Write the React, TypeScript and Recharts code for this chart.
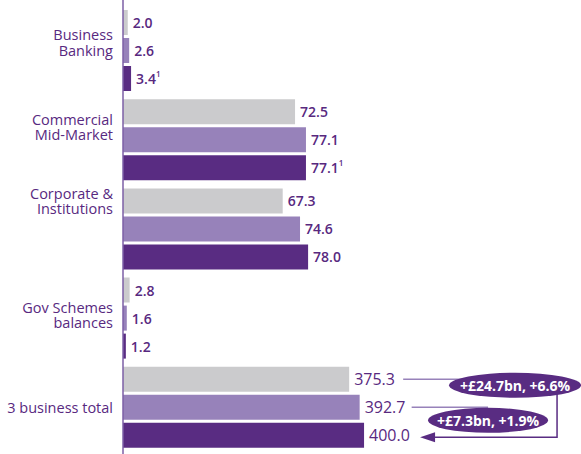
import { BarChart, Bar, XAxis, YAxis, LabelList } from 'recharts';

const categories = [
  'Business\nBanking',
  'Commercial\nMid-Market',
  'Corporate &\nInstitutions',
  'Gov Schemes\nbalances',
  '3 business total',
];
const prior2 = [2.0, 72.5, 67.3, 2.8, 375.3];
const prior1 = [2.6, 77.1, 74.6, 1.6, 392.7];
const current = [3.4, 77.1, 78.0, 1.2, 400.0];
const currentNotes = ['1', '1', '', '', ''];
const TOTAL = 4;

const GREY = '#cbcbcd';
const LIGHT = '#9782ba';
const DARK = '#592c82';
const TEXT = '#58297f';
const FONT = '"Open Sans", sans-serif';

const BAR = 25;
const GAP = 3;
// vertical nudges for the category text, as laid out in the original
const NUDGE = [-8, -13, -28, -3, 0];

const data = categories.map((name, i) =>
  i === TOTAL
    ? { name, a: null, b: null, c: null, ta: prior2[i], tb: prior1[i], tc: current[i] }
    : { name, a: prior2[i], b: prior1[i], c: current[i], ta: null, tb: null, tc: null }
);

function CategoryTick(props: any) {
  const { x, y, payload, index } = props;
  const lines = String(payload.value).split('\n');
  const lh = 15.5;
  const top = y + (NUDGE[index] ?? 0) - ((lines.length - 1) * lh) / 2;
  return (
    <g>
      {lines.map((l, i) => (
        <text key={i} x={x} y={top + i * lh} textAnchor="end" dominantBaseline="central" fill={TEXT}
          fontSize={14.5} fontFamily={FONT}>{l}</text>
      ))}
    </g>
  );
}

const valueLabel = (notes?: string[]) => (props: any) => {
  const { x, y, width, height, value, index } = props;
  if (value == null) return null;
  const note = notes ? notes[index] : '';
  return (
    <text x={x + width + 5} y={y + height / 2} dominantBaseline="central" fill={TEXT}
      fontSize={14} fontWeight={600} fontFamily={FONT}>
      {Number(value).toFixed(1)}
      {note ? <tspan fontSize={8} dy={-6}>{note}</tspan> : null}
    </text>
  );
};

const totalLabel = (props: any) => {
  const { x, y, width, height, value } = props;
  if (value == null) return null;
  return (
    <text x={x + width + 5} y={y + height / 2} dominantBaseline="central" fill={TEXT}
      fontSize={16} fontWeight={500} fontFamily={FONT}>
      {Number(value).toFixed(1)}
    </text>
  );
};

// last total bar also draws the change callouts
const totalCurrentLabel = (props: any) => {
  const { x, y, width, height, value } = props;
  if (value == null) return null;
  const px = width / value;
  const darkCy = y + height / 2;
  const lightCy = darkCy - (BAR + GAP);
  const greyCy = darkCy - 2 * (BAR + GAP);
  const p2 = prior2[TOTAL];
  const p1 = prior1[TOTAL];
  const d1 = value - p2;
  const d2 = value - p1;
  const t1 = `+£${d1.toFixed(1)}bn, +${((d1 / p2) * 100).toFixed(1)}%`;
  const t2 = `+£${d2.toFixed(1)}bn, +${((d2 / p1) * 100).toFixed(1)}%`;
  const labelEnd = x + width + 5 + 44;
  const b1 = { cx: labelEnd + 102, cy: greyCy + 6 };
  const b2 = { cx: labelEnd + 75, cy: lightCy + 13 };
  const tipX = labelEnd + 7;
  const bracketX = b1.cx + 42;
  const arrowY = darkCy + 2;
  return (
    <g>
      <text x={x + width + 5} y={darkCy} dominantBaseline="central" fill={TEXT}
        fontSize={16} fontWeight={500} fontFamily={FONT}>
        {Number(value).toFixed(1)}
      </text>
      <line x1={x + p2 * px + 54} y1={greyCy} x2={b1.cx} y2={greyCy} stroke={LIGHT} strokeWidth={1.5} />
      <line x1={x + p1 * px + 52} y1={lightCy} x2={b2.cx} y2={lightCy} stroke={LIGHT} strokeWidth={1.5} />
      <polyline points={`${bracketX},${b1.cy} ${bracketX},${arrowY} ${tipX + 14},${arrowY}`}
        fill="none" stroke={DARK} strokeWidth={1.5} />
      <polygon points={`${tipX},${arrowY} ${tipX + 15},${arrowY - 5} ${tipX + 15},${arrowY + 5}`} fill={DARK} />
      <ellipse cx={b1.cx} cy={b1.cy} rx={66} ry={12.5} fill={DARK} />
      <text x={b1.cx} y={b1.cy} textAnchor="middle" dominantBaseline="central" fill="#fff"
        fontSize={14} fontWeight={700} fontFamily={FONT}>{t1}</text>
      <ellipse cx={b2.cx} cy={b2.cy} rx={60} ry={12.5} fill={DARK} />
      <text x={b2.cx} y={b2.cy} textAnchor="middle" dominantBaseline="central" fill="#fff"
        fontSize={14} fontWeight={700} fontFamily={FONT}>{t2}</text>
    </g>
  );
};

export default function App() {
  return (
    <div style={{ position: 'absolute', left: 0, top: 0, background: '#fff' }}>
      <BarChart width={581} height={454} data={data} layout="vertical" barSize={BAR} barGap={GAP}
        margin={{ top: 0, right: 0, bottom: 0, left: 0 }}>
        <XAxis xAxisId="main" type="number" domain={[0, 193]} hide />
        <XAxis xAxisId="total" type="number" domain={[0, 760]} hide />
        <YAxis yAxisId="cat" type="category" dataKey="name" width={123} tickLine={false} tickSize={0}
          tickMargin={10} axisLine={{ stroke: '#7d5fa6', strokeWidth: 1.5 }} padding={{ top: 6, bottom: 2 }}
          tick={<CategoryTick />} interval={0} />
        <YAxis yAxisId="tot" type="category" dataKey="name" hide padding={{ top: 6, bottom: 2 }} />
        <Bar dataKey="a" xAxisId="main" yAxisId="cat" fill={GREY} isAnimationActive={false}>
          <LabelList dataKey="a" content={valueLabel()} />
        </Bar>
        <Bar dataKey="b" xAxisId="main" yAxisId="cat" fill={LIGHT} isAnimationActive={false}>
          <LabelList dataKey="b" content={valueLabel()} />
        </Bar>
        <Bar dataKey="c" xAxisId="main" yAxisId="cat" fill={DARK} isAnimationActive={false}>
          <LabelList dataKey="c" content={valueLabel(currentNotes)} />
        </Bar>
        <Bar dataKey="ta" xAxisId="total" yAxisId="tot" fill={GREY} isAnimationActive={false}>
          <LabelList dataKey="ta" content={totalLabel} />
        </Bar>
        <Bar dataKey="tb" xAxisId="total" yAxisId="tot" fill={LIGHT} isAnimationActive={false}>
          <LabelList dataKey="tb" content={totalLabel} />
        </Bar>
        <Bar dataKey="tc" xAxisId="total" yAxisId="tot" fill={DARK} isAnimationActive={false}>
          <LabelList dataKey="tc" content={totalCurrentLabel} />
        </Bar>
      </BarChart>
    </div>
  );
}
